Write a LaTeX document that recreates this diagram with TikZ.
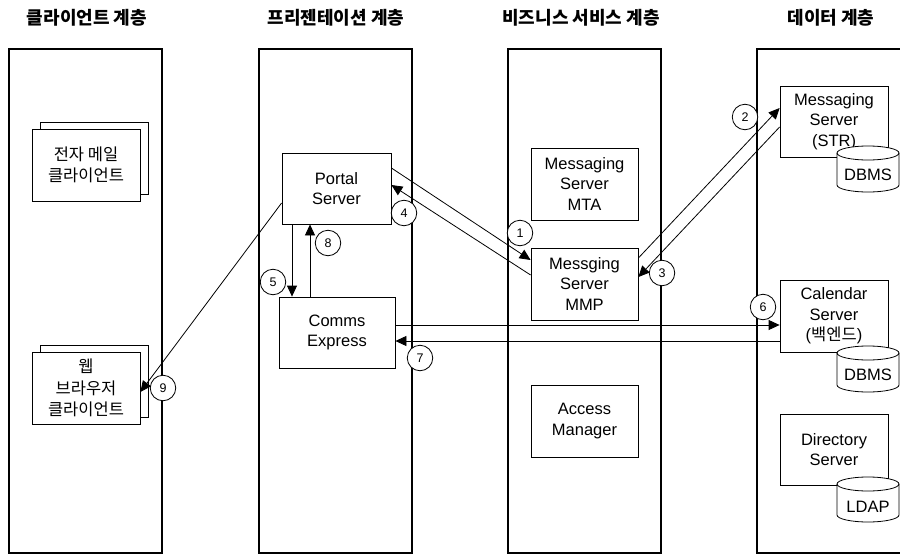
\documentclass[tikz,border=0pt]{standalone}
\usepackage{fontspec}
\setmainfont{Liberation Sans}
\newfontfamily\kr{Noto Sans CJK KR}
\usetikzlibrary{arrows.meta}
\begin{document}
\begin{tikzpicture}[x={(1pt,0)},y={(0,-1pt)},
  lane/.style={draw,line width=1.1pt},
  box/.style={draw,line width=0.8pt,fill=white,align=center,inner sep=0pt,
     font=\fontsize{16.5}{20.5}\selectfont},
  krbox/.style={box,font=\kr\fontsize{16.5}{21.5}\selectfont},
  title/.style={font=\kr\bfseries\fontsize{18}{20}\selectfont,inner sep=0pt},
  num/.style={draw,circle,fill=white,line width=0.8pt,minimum size=25.5pt,inner sep=0pt,
     font=\fontsize{12.5}{12.5}\selectfont},
  arr/.style={line width=0.8pt,-{Triangle[length=11pt,width=10pt]}},
  cyllabel/.style={inner sep=0pt,font=\fontsize{16.5}{20}\selectfont}]
\useasboundingbox (0,0) rectangle (900,554);
\clip (0,0) rectangle (900,554);
% lanes
\draw[lane] (9,49) rectangle (162,553);
\draw[lane] (259,49) rectangle (412,553);
\draw[lane] (508,49) rectangle (661,553);
\draw[lane] (757,49) rectangle (910,553);
% titles
\node[title] (t1) at (87,18) {클라이언트 계층};
\node[title] (t2) at (336,18) {프리젠테이션 계층};
\node[title] (t3) at (581,18) {비즈니스 서비스 계층};
\node[title] (t4) at (831,18) {데이터 계층};
% client boxes
\node[box,minimum width=108pt,minimum height=72pt] (emailback) at (94,158) {};
\node[krbox,minimum width=108pt,minimum height=72pt] (email) at (86,165) {전자 메일\\클라이언트};
\node[box,minimum width=108pt,minimum height=72pt] (webback) at (94,381) {};
\node[krbox,minimum width=108pt,minimum height=72pt] (web) at (86,388) {웹\\브라우저\\클라이언트};
% presentation
\node[box,minimum width=109pt,minimum height=71pt] (portal) at (336.5,188.5) {Portal\\Server};
\node[box,minimum width=116pt,minimum height=71pt] (comms) at (337,332.5) {Comms\\Express};
% business
\node[box,minimum width=107pt,minimum height=72pt] (mta) at (584.5,184) {Messaging\\Server\\MTA};
\node[box,minimum width=107pt,minimum height=72pt] (mmp) at (584.5,284) {Messging\\Server\\MMP};
\node[box,minimum width=107pt,minimum height=72pt] (am) at (584.5,421) {Access\\Manager};
% data
\node[box,minimum width=108pt,minimum height=71pt] (str) at (834,121.5) {Messaging\\Server\\(STR)};
\node[box,minimum width=108pt,minimum height=72pt] (cal) at (834,316) {Calendar\\Server\\({\kr 백엔드})};
\node[box,minimum width=108pt,minimum height=71pt] (dir) at (834,449.5) {Directory\\Server};
% cylinders
\foreach \yt/\yb/\lab/\ly/\nm in {153/185/DBMS/175/db1, 353/385/DBMS/375/db2, 484/515/LDAP/507/ldap}{
  \filldraw[fill=white,line width=0.8pt] (837,\yt) -- (837,\yb)
     arc[start angle=180,end angle=360,x radius=31pt,y radius=7pt] -- (899,\yt)
     arc[start angle=0,end angle=180,x radius=31pt,y radius=7pt] -- cycle;
  \draw[line width=0.8pt] (837,\yt) arc[start angle=180,end angle=360,x radius=31pt,y radius=7pt];
  \node[cyllabel] (\nm) at (868,\ly) {\lab};
}
% arrows
\draw[arr] ([yshift=20.5pt]portal.east) -- ([yshift=24pt]mmp.west);
\draw[arr] ([yshift=9pt]mmp.west) -- ([yshift=3.5pt]portal.east);
\draw[arr] ([yshift=26pt]mmp.east) -- ([yshift=13.5pt]str.west);
\draw[arr] ([yshift=-5.5pt]str.west) -- ([yshift=7pt]mmp.east);
\draw[arr] ([xshift=-44.5pt]portal.south) -- ([xshift=-45pt]comms.north);
\draw[arr] ([xshift=-27pt]comms.north) -- ([xshift=-26.5pt]portal.south);
\draw[arr] ([yshift=7.5pt]comms.east) -- ([yshift=-9pt]cal.west);
\draw[arr] ([yshift=-25pt]cal.west) -- ([yshift=-8.5pt]comms.east);
\draw[arr] ([yshift=-14.5pt]portal.west) -- ([yshift=-4pt]web.east);
% numbers
\node[num] (c1) at (520,233) {1};
\node[num] (c2) at (745,117) {2};
\node[num] (c3) at (662,273) {3};
\node[num] (c4) at (404,213) {4};
\node[num] (c5) at (273,282) {5};
\node[num] (c6) at (763,307) {6};
\node[num] (c7) at (420,358) {7};
\node[num] (c8) at (328,243) {8};
\node[num] (c9) at (163,388) {9};
\end{tikzpicture}
\end{document}
